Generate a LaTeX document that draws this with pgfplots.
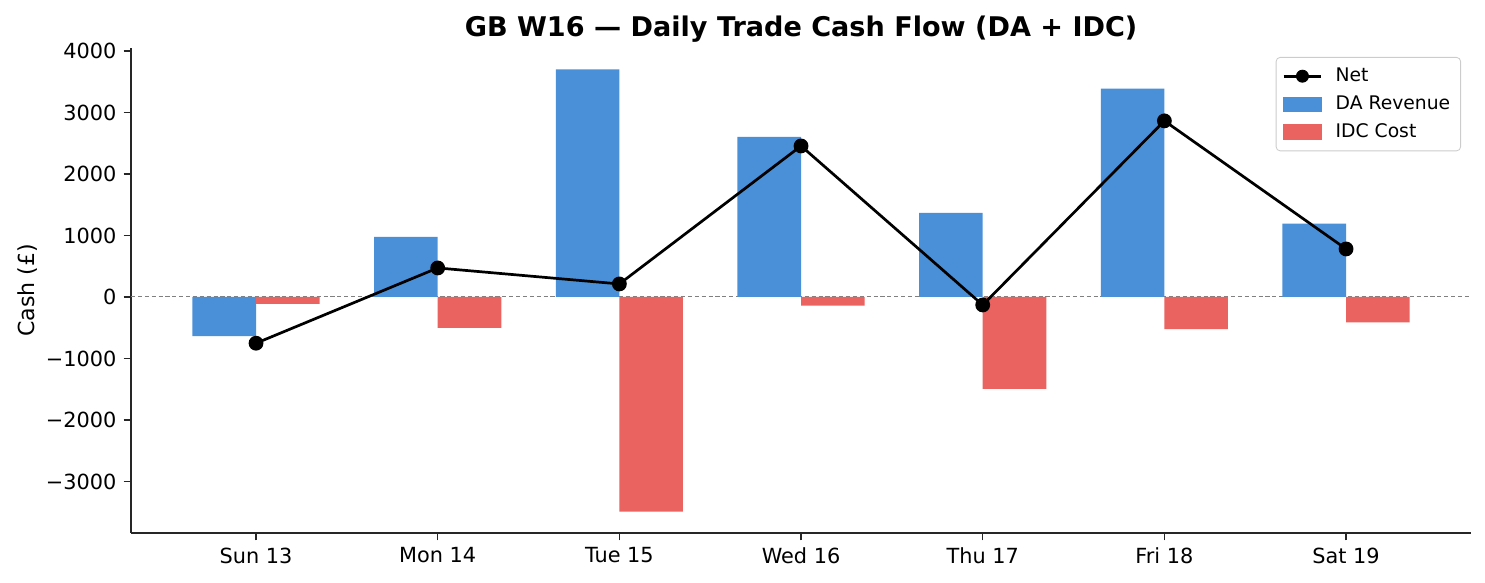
\documentclass[border=0pt]{standalone}
\usepackage{pgfplots}
\pgfplotsset{compat=1.18}
\usepackage{fontspec}
\setmainfont{DejaVu Sans}
\definecolor{dablue}{HTML}{4A90D9}
\definecolor{idcred}{HTML}{EB6360}
\begin{document}
\begin{tikzpicture}
\path[use as bounding box] (-62.9pt,-24pt) rectangle (649.9pt,255.84pt);
\begin{axis}[
  at={(0,0)}, anchor=south west,
  scale only axis,
  width=643.2pt, height=232.8pt,
  xmin=-0.688, xmax=6.688,
  ymin=-3838, ymax=4049,
  axis lines=left,
  axis line style={-, line width=0.6pt, color=black!85},
  tick align=outside,
  major tick length=3.5pt,
  tick style={line width=0.6pt, color=black!85},
  xtick={0,1,2,3,4,5,6},
  xticklabels={Sun 13,Mon 14,Tue 15,Wed 16,Thu 17,Fri 18,Sat 19},
  ytick={-3000,-2000,-1000,0,1000,2000,3000,4000},
  yticklabels={−3000,−2000,−1000,0,1000,2000,3000,4000},
  ticklabel style={font=\fontsize{10}{12}\selectfont},
  ylabel={Cash (£)},
  ylabel style={at={(axis description cs:-0.077,0.5)}, anchor=center, font=\fontsize{10.6}{12}\selectfont},
  title={\bfseries GB W16 — Daily Trade Cash Flow (DA + IDC)},
  title style={at={(axis description cs:0.5,1)}, anchor=center, yshift=3.2pt, font=\fontsize{13}{15}\selectfont},
  legend style={at={(axis description cs:1,1)}, anchor=north east, xshift=-4.8pt, yshift=-4.3pt,
    draw=black!20, rounded corners=2pt, fill=white, font=\fontsize{9}{11}\selectfont,
    row sep=1.3pt, inner xsep=3pt, inner ysep=3pt,
    /tikz/every odd column/.append style={column sep=4.3pt}},
  legend cell align=left,
  clip=false,
]
\addplot[gray, line width=0.5pt, dash pattern=on 2pt off 1.3pt, forget plot] coordinates {(-0.688,0) (6.688,0)};
\addplot[ybar, bar width=0.35, bar shift=-0.175, fill=dablue, draw=none, forget plot] coordinates {
 (0,-635) (1,976) (2,3700) (3,2605) (4,1366) (5,3390) (6,1193)};
\addplot[ybar, bar width=0.35, bar shift=0.175, fill=idcred, draw=none, forget plot] coordinates {
 (0,-114) (1,-504) (2,-3489) (3,-140) (4,-1496) (5,-521) (6,-413)};
\addplot[black, line width=1.3pt, mark=*, mark size=2.9pt, mark options={solid, fill=black}, forget plot] coordinates {
 (0,-752) (1,472) (2,212) (3,2456) (4,-130) (5,2864) (6,781)};
\addlegendimage{legend image code/.code={\draw[black, line width=1.3pt, sharp corners] (0pt,0pt) -- (18pt,0pt); \fill[black] (9pt,0pt) circle (2.9pt);}}
\addlegendentry{Net}
\addlegendimage{legend image code/.code={\fill[dablue, sharp corners] (0pt,-3.4pt) rectangle (18pt,3.4pt);}}
\addlegendentry{DA Revenue}
\addlegendimage{legend image code/.code={\fill[idcred, sharp corners] (0pt,-3.4pt) rectangle (18pt,3.4pt);}}
\addlegendentry{IDC Cost}
\end{axis}
\end{tikzpicture}
\end{document}
